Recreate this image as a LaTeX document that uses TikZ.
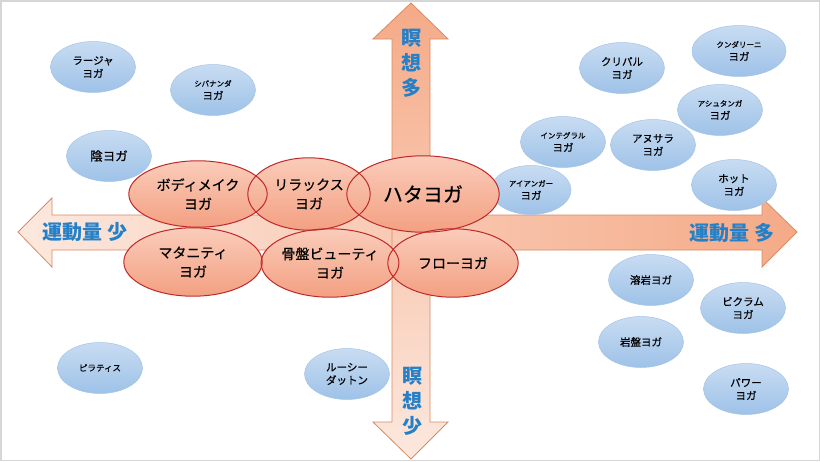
\documentclass[tikz,border=0pt]{standalone}
\usepackage{fontspec}
\setmainfont{Noto Sans CJK JP}
\newfontfamily\medjp{Noto Sans CJK JP}[FakeBold=0.5]
\usetikzlibrary{shapes.geometric,calc}
\definecolor{axisdark}{RGB}{245,170,135}
\definecolor{axislight}{RGB}{252,232,222}
\definecolor{axisline}{RGB}{214,140,100}
\definecolor{axistext}{RGB}{36,128,200}
\definecolor{redtop}{RGB}{250,204,186}
\definecolor{redbot}{RGB}{243,160,130}
\definecolor{redline}{RGB}{192,40,40}
\definecolor{bluetop}{RGB}{200,220,242}
\definecolor{bluebot}{RGB}{158,194,232}
\definecolor{blueline}{RGB}{165,195,228}
\definecolor{framegray}{RGB}{214,214,214}
\begin{document}
\begin{tikzpicture}[x=1pt,y=-1pt,
  blueell/.style={ellipse, top color=bluetop, bottom color=bluebot, draw=blueline,
    line width=0.5pt,
    minimum width=85pt, minimum height=51pt, inner sep=0pt, align=center,
    font=\medjp\fontsize{10.5}{13}\selectfont},
  redell/.style={ellipse, top color=redtop, bottom color=redbot, inner sep=0pt,
    align=center, font=\medjp\fontsize{14}{19}\selectfont},
  redrim/.style={draw=redline, line width=1pt},
  axisshape/.style={draw=axisline, line width=0.8pt},
  axislabel/.style={text=axistext, font=\fontsize{20}{25}\selectfont\bfseries,
    align=center, inner sep=0pt}
]
\useasboundingbox (0,0) rectangle (820,461);
\fill[white] (0,0) rectangle (820,461);
\draw[framegray, line width=1.5pt] (0.75,0.75) rectangle (819.25,460.25);

% horizontal axis
\path[axisshape, left color=axislight, right color=axisdark]
  (18,232) -- (52,198) -- (52,215) -- (762,215) -- (762,198) -- (797,232)
  -- (762,267) -- (762,250) -- (52,250) -- (52,267) -- cycle;
% vertical axis
\path[axisshape, top color=axisdark, bottom color=axislight]
  (411,3) -- (448,39) -- (430,39) -- (430,422) -- (448,422) -- (411,459)
  -- (373,422) -- (392,422) -- (392,39) -- (373,39) -- cycle;

\node[axislabel] (uplab) at (411,63) {瞑\\想\\多};
\node[axislabel] (downlab) at (412,401) {瞑\\想\\少};
\node[axislabel] (leftlab) at (85,232) {運動量 少};
\node[axislabel] (rightlab) at (732,233) {運動量 多};

% blue ellipses
\node[blueell] (raja) at (93,67) {ラージャ\\ヨガ};
\node[blueell] (shiva) at (213,90) {{\fontsize{7.5}{9}\selectfont シバナンダ}\\ヨガ};
\node[blueell, font=\medjp\fontsize{12.5}{14}\selectfont] (yin) at (109,156) {陰ヨガ};
\node[blueell] (kripalu) at (622,68) {クリパル\\ヨガ};
\node[blueell, minimum width=94pt] (kundalini) at (739,51) {{\fontsize{7.5}{9}\selectfont クンダリーニ}\\ヨガ};
\node[blueell] (ashtanga) at (720,110) {{\fontsize{7.5}{9}\selectfont アシュタンガ}\\ヨガ};
\node[blueell] (integral) at (563,142) {{\fontsize{7.5}{9}\selectfont インテグラル}\\ヨガ};
\node[blueell] (anusara) at (653,145) {アヌサラ\\ヨガ};
\node[blueell] (hot) at (734,185) {ホット\\ヨガ};
\node[blueell, minimum width=80pt, minimum height=49pt] (iyengar) at (531,190) {{\fontsize{7.5}{9}\selectfont アイアンガー}\\ヨガ};
\node[blueell] (lava) at (651,280) {溶岩ヨガ};
\node[blueell] (bikram) at (743,308) {ビクラム\\ヨガ};
\node[blueell] (ganban) at (641,342) {岩盤ヨガ};
\node[blueell] (power) at (746,389) {パワー\\ヨガ};
\node[blueell, font=\medjp\fontsize{8.5}{10}\selectfont] (pilates) at (100,368) {ピラティス};
\node[blueell] (lucy) at (347,374) {ルーシー\\ダットン};

% red ellipses
\node[redell, minimum width=138pt, minimum height=66pt] (body) at (198,194) {ボディメイク\\ヨガ};
\node[redell, minimum width=122pt, minimum height=72pt] (relax) at (309,194) {リラックス\\ヨガ};
\node[redell, minimum width=152pt, minimum height=76pt, font=\medjp\fontsize{20}{24}\selectfont] (hatha) at (423,194) {ハタヨガ};
\node[redell, minimum width=138pt, minimum height=68pt] (mat) at (193,262) {マタニティ\\ヨガ};
\node[redell, minimum width=136pt, minimum height=68pt] (pelvis) at (330,263) {骨盤ビューティ\\ヨガ};
\node[redell, minimum width=130pt, minimum height=68pt] (flow) at (453,263) {フローヨガ};

\foreach \nd in {body,relax,hatha,mat,pelvis,flow}
  \draw[redrim] let \p1=(\nd.east), \p2=(\nd.north), \p3=(\nd.center) in
    (\p3) ellipse [x radius=\x1-\x3, y radius=\y2-\y3];
\end{tikzpicture}
\end{document}
